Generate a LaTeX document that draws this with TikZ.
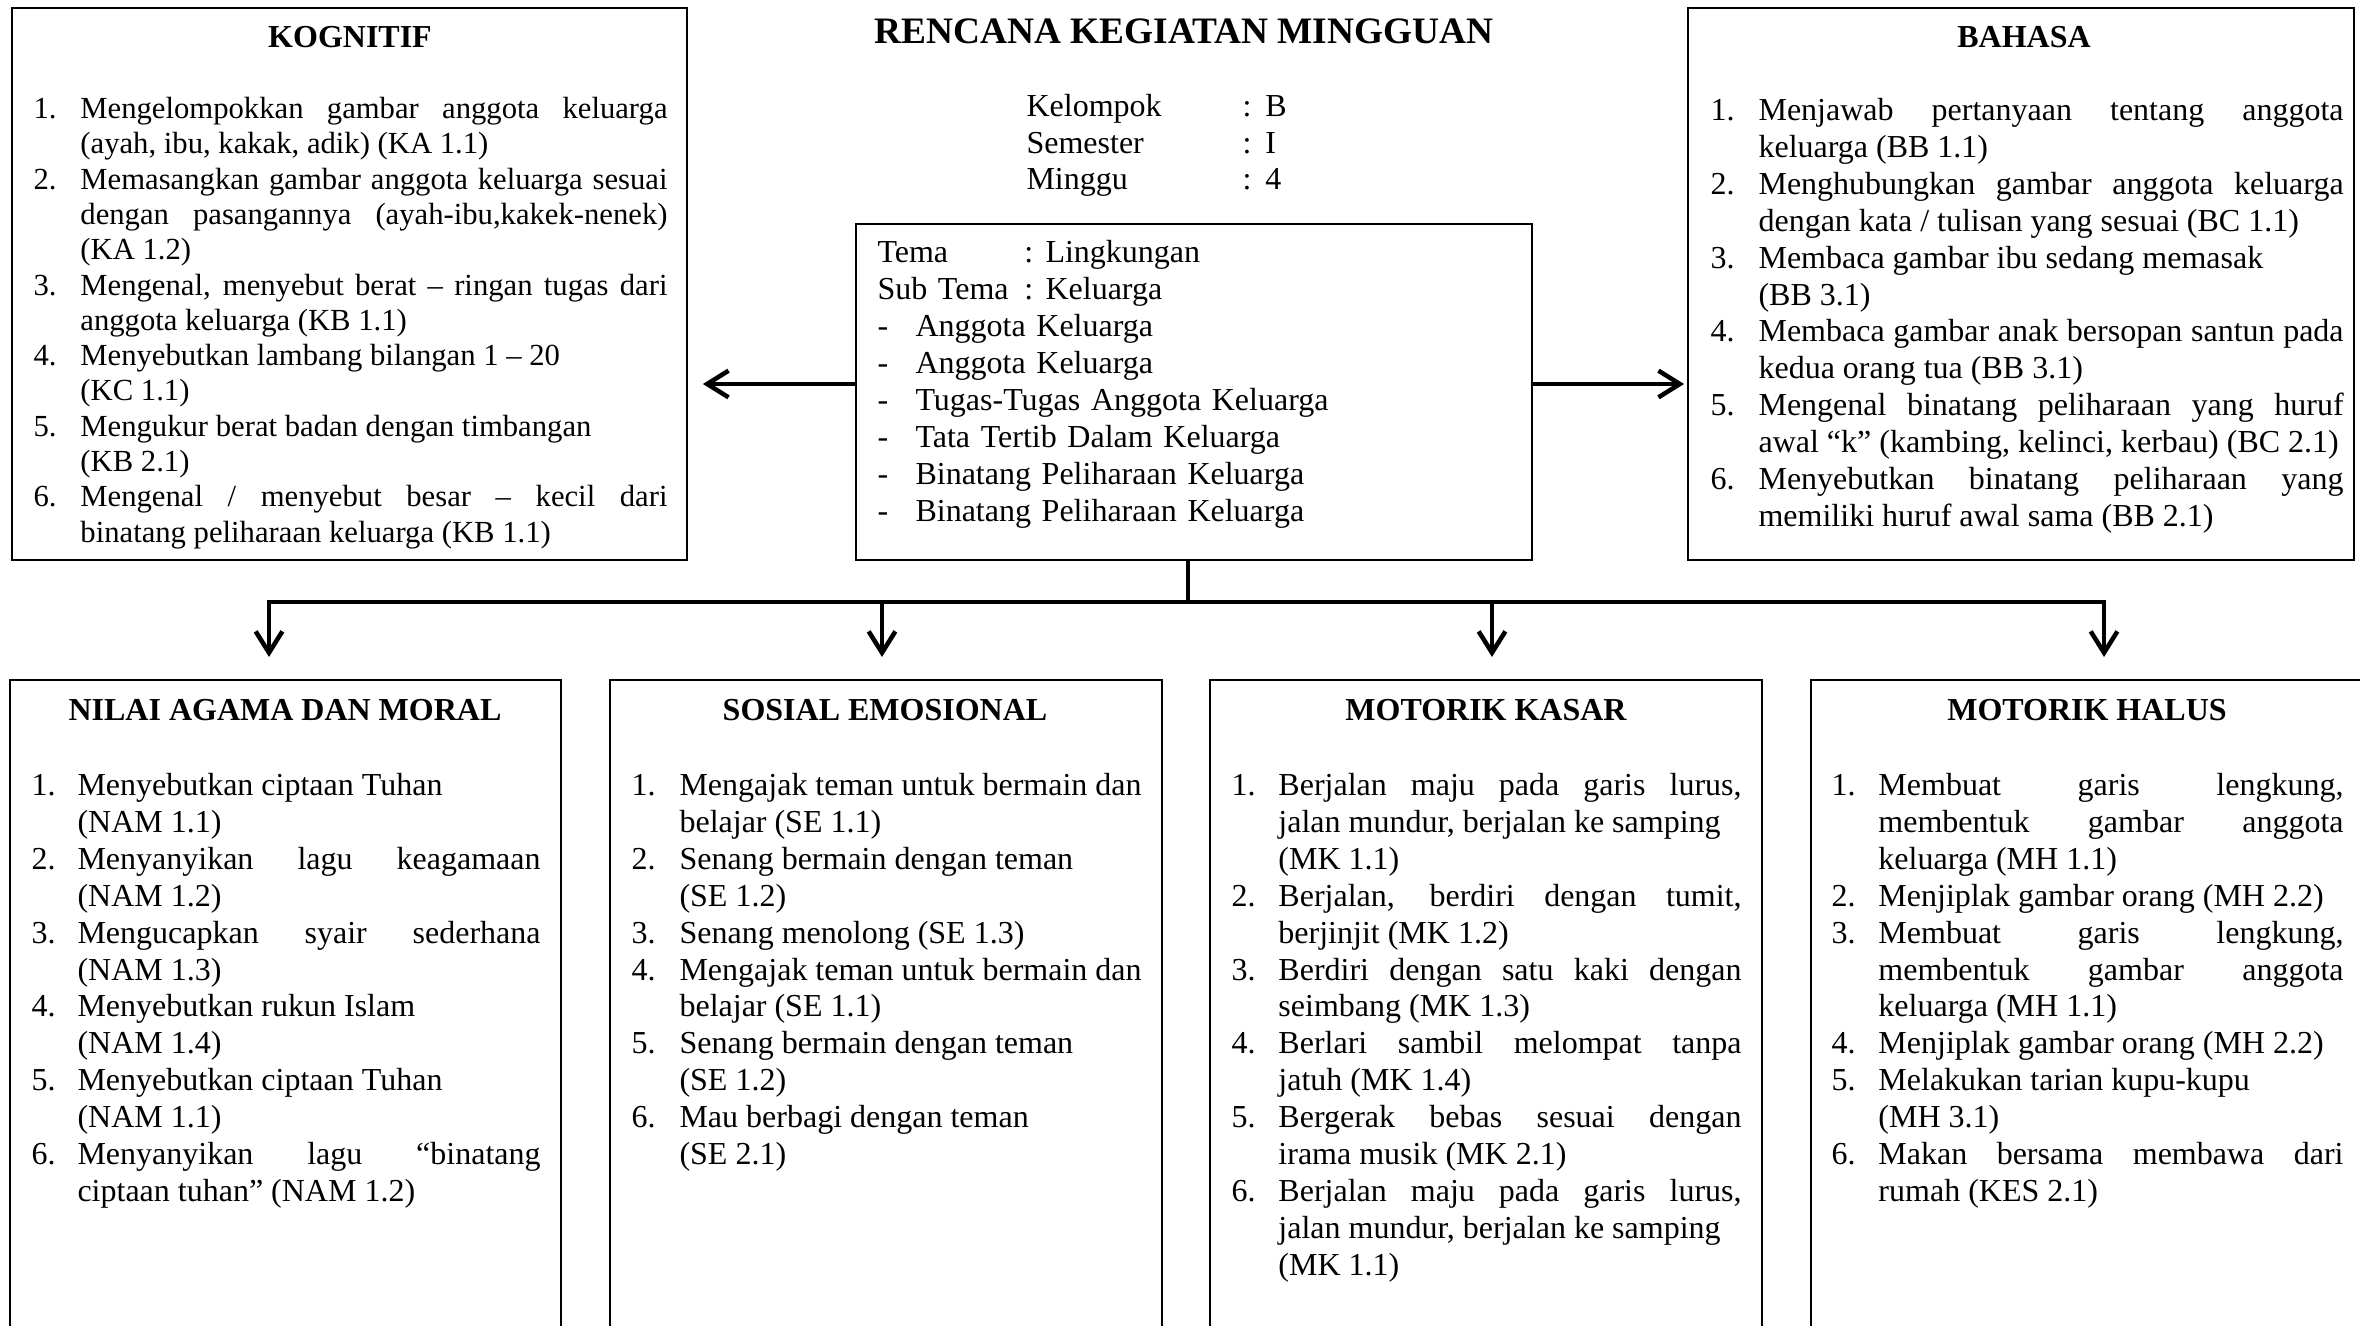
\documentclass[tikz,border=0pt]{standalone}
\usepackage{fontspec}
\setmainfont{Liberation Serif}
\usetikzlibrary{arrows.meta,fit}
\tolerance=10000 \hbadness=10000 \hyphenpenalty=10000 \exhyphenpenalty=10000 \parskip=0pt
\newlength\hangw
\newcommand\li[2]{\par\hangindent=\hangw\hangafter=1\noindent\hbox to\hangw{\rule{0pt}{9.5pt}#1\hfil}\ignorespaces#2}
\begin{document}
\begin{tikzpicture}[x=0.375pt,y=-0.375pt,
  panel/.style={draw,line width=0.75pt,inner sep=0pt},
  conn/.style={line width=1.7pt},
  arr/.style={conn,-{Straight Barb[length=8pt,width=10pt]}},
  head/.style={anchor=base,inner sep=0pt,font=\fontsize{12pt}{14pt}\selectfont\bfseries},
  itemlist/.style={anchor=north west,inner sep=0pt,yshift=13.84pt,align=justify,text width=#1,font=\fontsize{12pt}{13.84pt}\selectfont},
  plain/.style={anchor=north west,inner sep=0pt,yshift=9.5pt,align=left,text width=#1}]
\useasboundingbox (0,0) rectangle (2360,1326);
\clip (0,0) rectangle (2360,1326);
% boxes
\node[panel, fit={(12,8) (687,560)}] (kog) {};
\node[panel, fit={(856,224) (1532,560)}] (tema) {};
\node[panel, fit={(1688,8) (2354,560)}] (bah) {};
\node[panel, fit={(10,680) (561,1345)}] (nam) {};
\node[panel, fit={(610,680) (1162,1345)}] (sos) {};
\node[panel, fit={(1210,680) (1762,1345)}] (mk) {};
\node[panel, fit={(1811,680) (2364,1345)}] (mh) {};
% title and info
\node[anchor=base,inner sep=0pt,font=\fontsize{14pt}{16pt}\selectfont\bfseries] (title) at (1184,44) {RENCANA KEGIATAN MINGGUAN};
\node[plain=112.5pt,font=\fontsize{12pt}{13.69pt}\selectfont] (info) at (1026,116) {\rule{0pt}{9.5pt}\makebox[81pt][l]{Kelompok}\makebox[8.6pt][l]{:}B\\
\makebox[81pt][l]{Semester}\makebox[8.6pt][l]{:}I\\
\makebox[81pt][l]{Minggu}\makebox[8.6pt][l]{:}4};
\node[plain=225pt,font=\fontsize{12pt}{13.875pt}\selectfont] (tematext) at (877,262) {\rule{0pt}{9.5pt}\makebox[55.1pt][l]{Tema}\makebox[7.9pt][l]{:}Lingkungan\\
\makebox[55.1pt][l]{Sub Tema}\makebox[7.9pt][l]{:}Keluarga\\
\makebox[14.25pt][l]{-}Anggota Keluarga\\
\makebox[14.25pt][l]{-}Anggota Keluarga\\
\makebox[14.25pt][l]{-}Tugas-Tugas Anggota Keluarga\\
\makebox[14.25pt][l]{-}Tata Tertib Dalam Keluarga\\
\makebox[14.25pt][l]{-}Binatang Peliharaan Keluarga\\
\makebox[14.25pt][l]{-}Binatang Peliharaan Keluarga};
% headings
\node[head] (kogh) at (350,48) {KOGNITIF};
\node[head] (bahh) at (2024,48) {BAHASA};
\node[head] (namh) at (285,720) {NILAI AGAMA DAN MORAL};
\node[head] (sosh) at (885,720) {SOSIAL EMOSIONAL};
\node[head] (mkh) at (1486,720) {MOTORIK KASAR};
\node[head] (mhh) at (2087,720) {MOTORIK HALUS};
% lists
\node[itemlist=237.75pt,yshift=-0.6pt,font=\fontsize{11.5pt}{13.24pt}\selectfont] (kogl) at (33,118) {\setlength\hangw{17.6pt}%
\li{1.}{Mengelompokkan gambar anggota keluarga\linebreak (ayah, ibu, kakak, adik) (KA 1.1)}
\li{2.}{Memasangkan gambar anggota keluarga sesuai\linebreak dengan pasangannya (ayah-ibu,kakek-nenek)\linebreak (KA 1.2)}
\li{3.}{Mengenal, menyebut berat – ringan tugas dari\linebreak anggota keluarga (KB 1.1)}
\li{4.}{Menyebutkan lambang bilangan 1 – 20\newline (KC 1.1)}
\li{5.}{Mengukur berat badan dengan timbangan\newline (KB 2.1)}
\li{6.}{Mengenal / menyebut besar – kecil dari\linebreak binatang peliharaan keluarga (KB 1.1)}\par};
\node[itemlist=237.4pt] (bahl) at (1710,120) {\setlength\hangw{18pt}%
\li{1.}{Menjawab pertanyaan tentang anggota\linebreak keluarga (BB 1.1)}
\li{2.}{Menghubungkan gambar anggota keluarga\linebreak dengan kata / tulisan yang sesuai (BC 1.1)}
\li{3.}{Membaca gambar ibu sedang memasak\newline (BB 3.1)}
\li{4.}{Membaca gambar anak bersopan santun pada\linebreak kedua orang tua (BB 3.1)}
\li{5.}{Mengenal binatang peliharaan yang huruf\linebreak awal “k” (kambing, kelinci, kerbau) (BC 2.1)}
\li{6.}{Menyebutkan binatang peliharaan yang\linebreak memiliki huruf awal sama (BB 2.1)}\par};
\node[itemlist=190.9pt] (naml) at (31,795) {\setlength\hangw{17.25pt}%
\li{1.}{Menyebutkan ciptaan Tuhan\newline (NAM 1.1)}
\li{2.}{Menyanyikan lagu keagamaan\linebreak (NAM 1.2)}
\li{3.}{Mengucapkan syair sederhana\linebreak (NAM 1.3)}
\li{4.}{Menyebutkan rukun Islam\newline (NAM 1.4)}
\li{5.}{Menyebutkan ciptaan Tuhan\newline (NAM 1.1)}
\li{6.}{Menyanyikan lagu “binatang\linebreak ciptaan tuhan” (NAM 1.2)}\par};
\node[itemlist=191.25pt] (sosl) at (631,795) {\setlength\hangw{18pt}%
\li{1.}{Mengajak teman untuk bermain dan\linebreak belajar (SE 1.1)}
\li{2.}{Senang bermain dengan teman\newline (SE 1.2)}
\li{3.}{Senang menolong (SE 1.3)}
\li{4.}{Mengajak teman untuk bermain dan\linebreak belajar (SE 1.1)}
\li{5.}{Senang bermain dengan teman\newline (SE 1.2)}
\li{6.}{Mau berbagi dengan teman\newline (SE 2.1)}\par};
\node[itemlist=191.25pt] (mkl) at (1231,795) {\setlength\hangw{17.6pt}%
\li{1.}{Berjalan maju pada garis lurus,\linebreak jalan mundur, berjalan ke samping\newline (MK 1.1)}
\li{2.}{Berjalan, berdiri dengan tumit,\linebreak berjinjit (MK 1.2)}
\li{3.}{Berdiri dengan satu kaki dengan\linebreak seimbang (MK 1.3)}
\li{4.}{Berlari sambil melompat tanpa\linebreak jatuh (MK 1.4)}
\li{5.}{Bergerak bebas sesuai dengan\linebreak irama musik (MK 2.1)}
\li{6.}{Berjalan maju pada garis lurus,\linebreak jalan mundur, berjalan ke samping\newline (MK 1.1)}\par};
\node[itemlist=192pt] (mhl) at (1831,795) {\setlength\hangw{17.6pt}%
\li{1.}{Membuat garis lengkung,\linebreak membentuk gambar anggota\linebreak keluarga (MH 1.1)}
\li{2.}{Menjiplak gambar orang (MH 2.2)}
\li{3.}{Membuat garis lengkung,\linebreak membentuk gambar anggota\linebreak keluarga (MH 1.1)}
\li{4.}{Menjiplak gambar orang (MH 2.2)}
\li{5.}{Melakukan tarian kupu-kupu\newline (MH 3.1)}
\li{6.}{Makan bersama membawa dari\linebreak rumah (KES 2.1)}\par};
% connectors
\draw[arr,shorten >=5.6pt] ([yshift=3pt]tema.west) -- ([yshift=3pt]tema.west -| kog.east);
\draw[arr,shorten >=1.1pt] ([yshift=3pt]tema.east) -- ([yshift=3pt]tema.east -| bah.west);
\coordinate (bus) at (1188,602);
\coordinate (b1) at (269,602);
\coordinate (b2) at (882,602);
\coordinate (b3) at (1492,602);
\coordinate (b4) at (2104,602);
\draw[conn] (tema.south -| bus) -- (bus);
\draw[arr,shorten >=8.25pt] (bus) -- (b1) -- (b1 |- nam.north);
\draw[arr,shorten >=8.25pt] (bus) -- (b4) -- (b4 |- mh.north);
\draw[arr,shorten >=8.25pt] (b2) -- (b2 |- sos.north);
\draw[arr,shorten >=8.25pt] (b3) -- (b3 |- mk.north);
\end{tikzpicture}
\end{document}
